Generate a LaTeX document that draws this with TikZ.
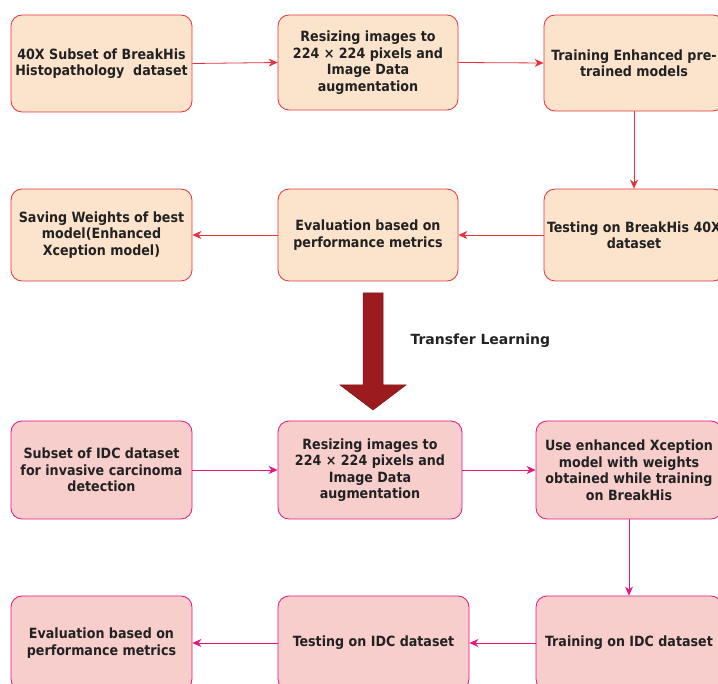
\documentclass[tikz,border=0pt]{standalone}
\usepackage{fontspec}
\setmainfont{DejaVu Sans}
\newfontfamily\boxfont{DejaVu Sans Condensed}
\usetikzlibrary{arrows.meta}
\definecolor{peach}{HTML}{FCE4CC}
\definecolor{redline}{HTML}{E8303A}
\definecolor{pinkfill}{HTML}{F8CECC}
\definecolor{pinkline}{HTML}{E6147C}
\definecolor{darkred}{HTML}{9B1B1E}
\definecolor{txt}{HTML}{222222}
\begin{document}
\begin{tikzpicture}[x=1pt,y=-1pt,
  box/.style={rounded corners=11pt, line width=0.8pt, align=center,
    font=\boxfont\bfseries\fontsize{14.1}{16.5}\selectfont, text=txt, inner sep=1pt},
  topbox/.style={box, draw=redline, fill=peach},
  botbox/.style={box, draw=pinkline, fill=pinkfill},
  redarr/.style={draw=redline, line width=0.8pt, -{Stealth[length=9pt,width=8pt]}},
  pinkarr/.style={draw=pinkline, line width=0.8pt, -{Stealth[length=9pt,width=8pt]}}]
\useasboundingbox (0,0) rectangle (718,684);
\clip (0,0) rectangle (718,684);
% row 1
\node[topbox, minimum width=181pt, minimum height=97pt] (a1) at (101.5,63.5) {40X Subset of BreakHis\\Histopathology\ \ dataset};
\node[topbox, minimum width=180pt, minimum height=95pt] (a2) at (368,62.5) {Resizing images to\\224 × 224 pixels and\\Image Data\\augmentation};
\node[topbox, minimum width=180pt, minimum height=96pt] (a3) at (634,63) {Training Enhanced pre-\\trained models};
% row 2
\node[topbox, minimum width=181pt, minimum height=92pt] (b1) at (101.5,235) {Saving Weights of best\\model(Enhanced\\Xception model)};
\node[topbox, minimum width=180pt, minimum height=92pt] (b2) at (368,235) {Evaluation based on\\performance metrics};
\node[topbox, minimum width=180pt, minimum height=92pt] (b3) at (634,235) {Testing on BreakHis 40X\\dataset};
% row 3
\node[botbox, minimum width=181pt, minimum height=98pt] (c1) at (101.5,470) {Subset of IDC dataset\\for invasive carcinoma\\detection};
\node[botbox, minimum width=184pt, minimum height=98pt] (c2) at (370,470) {Resizing images to\\224 × 224 pixels and\\Image Data\\augmentation};
\node[botbox, minimum width=186pt, minimum height=98pt] (c3) at (629,470) {Use enhanced Xception\\model with weights\\obtained while training\\on BreakHis};
% row 4
\node[botbox, minimum width=181pt, minimum height=94pt] (d1) at (101.5,643) {Evaluation based on\\performance metrics};
\node[botbox, minimum width=191pt, minimum height=94pt] (d2) at (373.5,643) {Testing on IDC dataset};
\node[botbox, minimum width=186pt, minimum height=94pt] (d3) at (629,643) {Training on IDC dataset};
% connectors
\draw[redarr] (a1.east) -- (a2.west);
\draw[redarr] (a2.east) -- (a3.west);
\draw[redarr] (a3.south) -- (b3.north);
\draw[redarr] (b3.west) -- (b2.east);
\draw[redarr] (b2.west) -- (b1.east);
\draw[pinkarr] (c1.east) -- (c2.west);
\draw[pinkarr] (c2.east) -- (c3.west);
\draw[pinkarr] (c3.south) -- (d3.north);
\draw[pinkarr] (d3.west) -- (d2.east);
\draw[pinkarr] (d2.west) -- (d1.east);
% transfer arrow
\draw[fill=darkred, draw=darkred!80!black, line width=0.5pt]
  (363,293) -- (383,293) -- (383,385) -- (406,385) -- (373,410) -- (340,385) -- (363,385) -- cycle;
\node[font=\bfseries\fontsize{14}{16}\selectfont, text=txt, anchor=west] (tl) at (407,341) {Transfer Learning};
\end{tikzpicture}
\end{document}
